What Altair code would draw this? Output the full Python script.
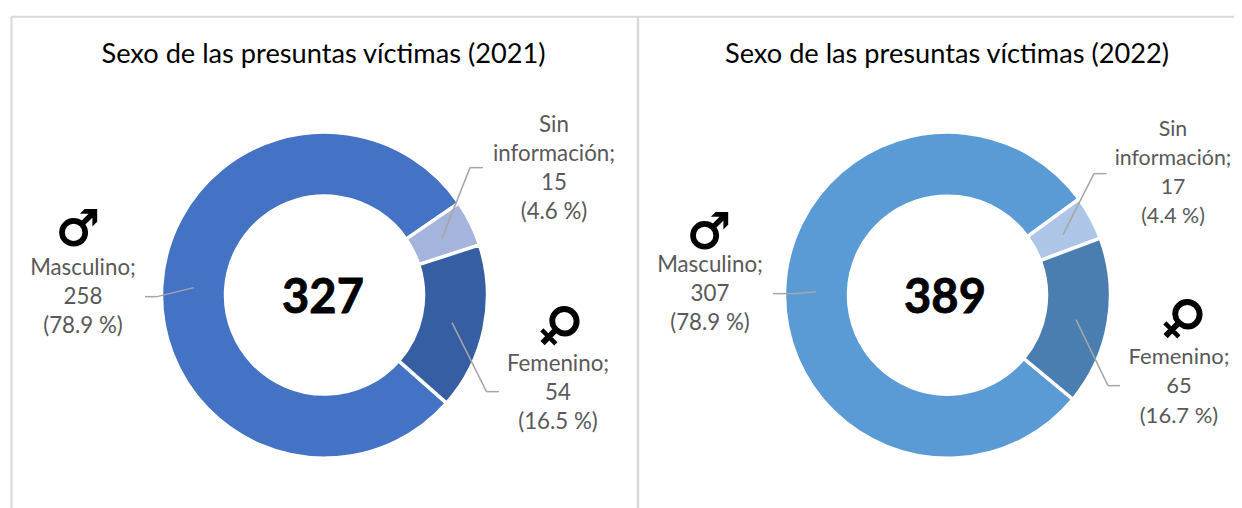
import math
import altair as alt
import pandas as pd

FONT = "Lato"
categories = ["Masculino", "Sin información", "Femenino"]
label_names = ["Masculino;", "Sin\ninformación;", "Femenino;"]
values_2021 = [258, 15, 54]
values_2022 = [307, 17, 65]
shares_2021 = ["78.9", "4.6", "16.5"]
shares_2022 = ["78.9", "4.4", "16.7"]
colors_2021 = ["#4472C4", "#A5B4DC", "#355EA3"]
colors_2022 = ["#5B9BD5", "#ADC6E7", "#4A7EB0"]
titles = ["Sexo de las presuntas víctimas (2021)", "Sexo de las presuntas víctimas (2022)"]
totals = ["327", "389"]

# The page shrinks a 1234 wide svg into its 1226 wide body; compensate.
S = 1234 / 1226

def px(v):
    return alt.value((v - 8) * S)

one = alt.Data(values=[{"a": 0}])

def rule(x1, y1, x2, y2, color, width):
    return alt.Chart(one).mark_rule(color=color, strokeWidth=width).encode(
        x=px(x1), y=px(y1), x2=px(x2), y2=px(y2))

def text(s, x, y, size, color, weight="normal", angle=0, font=FONT, line_height=None, stroke=None):
    kw = dict(angle=angle) if angle else {}
    if line_height:
        kw["lineHeight"] = line_height * S
    if stroke:
        kw["stroke"] = color
        kw["strokeWidth"] = stroke
    return alt.Chart(one).mark_text(
        text=s, font=font, fontSize=size * S, color=color, fontWeight=weight,
        align="center", baseline="middle", lineBreak="\n", **kw
    ).encode(x=px(x), y=px(y))

def donut(values, colors, cx, cy, start):
    df = pd.DataFrame({"cat": categories, "value": values, "idx": range(len(values))})
    a = math.radians(start)
    return alt.Chart(df).mark_arc(radius=163 * S, innerRadius=99 * S, stroke="white", strokeWidth=3.5).encode(
        x=px(cx), y=px(cy),
        theta=alt.Theta("value:Q", stack=True, scale=alt.Scale(range=[a, a + 2 * math.pi])),
        color=alt.Color("cat:N", legend=None, scale=alt.Scale(domain=categories, range=colors)),
        order=alt.Order("idx:Q"),
    )

def label(i, values, shares):
    return f"{label_names[i]}\n{values[i]}\n({shares[i]} %)"

LBL = "#595959"
LEAD = "#A6A6A6"
BORDER = "#D9D9D9"
layers = [
    rule(11, 15, 1242, 15, BORDER, 2),
    rule(11.5, 15, 11.5, 508, BORDER, 2),
    rule(638, 15, 638, 508, BORDER, 2.5),
    donut(values_2021, colors_2021, 324.5, 293.5, 131.5),
    donut(values_2022, colors_2022, 947.5, 293.5, 129.7),
    text(titles[0], 323.5, 53, 27.2, "#000000"),
    text(titles[1], 947, 53, 27.2, "#000000"),
    text(totals[0], 323, 297, 47, "#000000", "bold", stroke=0.8),
    text(totals[1], 945, 297, 47, "#000000", "bold", stroke=0.8),
    # leaders 2021
    rule(145, 295, 157, 295, LEAD, 1.5), rule(157, 295, 194, 286, LEAD, 1.5),
    rule(483, 166, 470, 166, LEAD, 1.5), rule(470, 166, 442, 237, LEAD, 1.5),
    rule(499, 390, 486.5, 390, LEAD, 1.5), rule(486.5, 390, 452, 321, LEAD, 1.5),
    # leaders 2022
    rule(773, 292, 794, 292, LEAD, 1.5), rule(794, 292, 816, 290, LEAD, 1.5),
    rule(1106.5, 172, 1094, 172, LEAD, 1.5), rule(1094, 172, 1063, 233, LEAD, 1.5),
    rule(1120, 384, 1108, 384, LEAD, 1.5), rule(1108, 384, 1076, 318, LEAD, 1.5),
    # labels (y is the first line's centre)
    text(label(0, values_2021, shares_2021), 83, 266, 22.3, LBL, line_height=29),
    text(label(1, values_2021, shares_2021), 554, 123, 22.3, LBL, line_height=29.3),
    text(label(2, values_2021, shares_2021), 558, 362, 22.3, LBL, line_height=29),
    text(label(0, values_2022, shares_2022), 710, 263, 22.3, LBL, line_height=29),
    text(label(1, values_2022, shares_2022), 1173, 128, 21.3, LBL, line_height=29.3),
    text(label(2, values_2022, shares_2022), 1179, 355, 22, LBL, line_height=29.5),
    # gender symbols
    text("♂", 78, 228, 49, "#000000", "bold", font="DejaVu Sans", stroke=1.4),
    text("♀", 559, 325, 52, "#000000", "bold", angle=45, font="DejaVu Sans", stroke=1.4),
    text("♂", 709, 231, 49, "#000000", "bold", font="DejaVu Sans", stroke=1.4),
    text("♀", 1182, 318, 52, "#000000", "bold", angle=45, font="DejaVu Sans", stroke=1.4),
]

chart = alt.layer(*layers).resolve_scale(theta="independent", color="independent").properties(
    width=1234, height=504, padding=0, autosize=alt.AutoSizeParams(type="none"),
    background="white",
).configure_view(strokeWidth=0)

chart.save("out.html", embed_options={"renderer": "svg", "actions": False})
